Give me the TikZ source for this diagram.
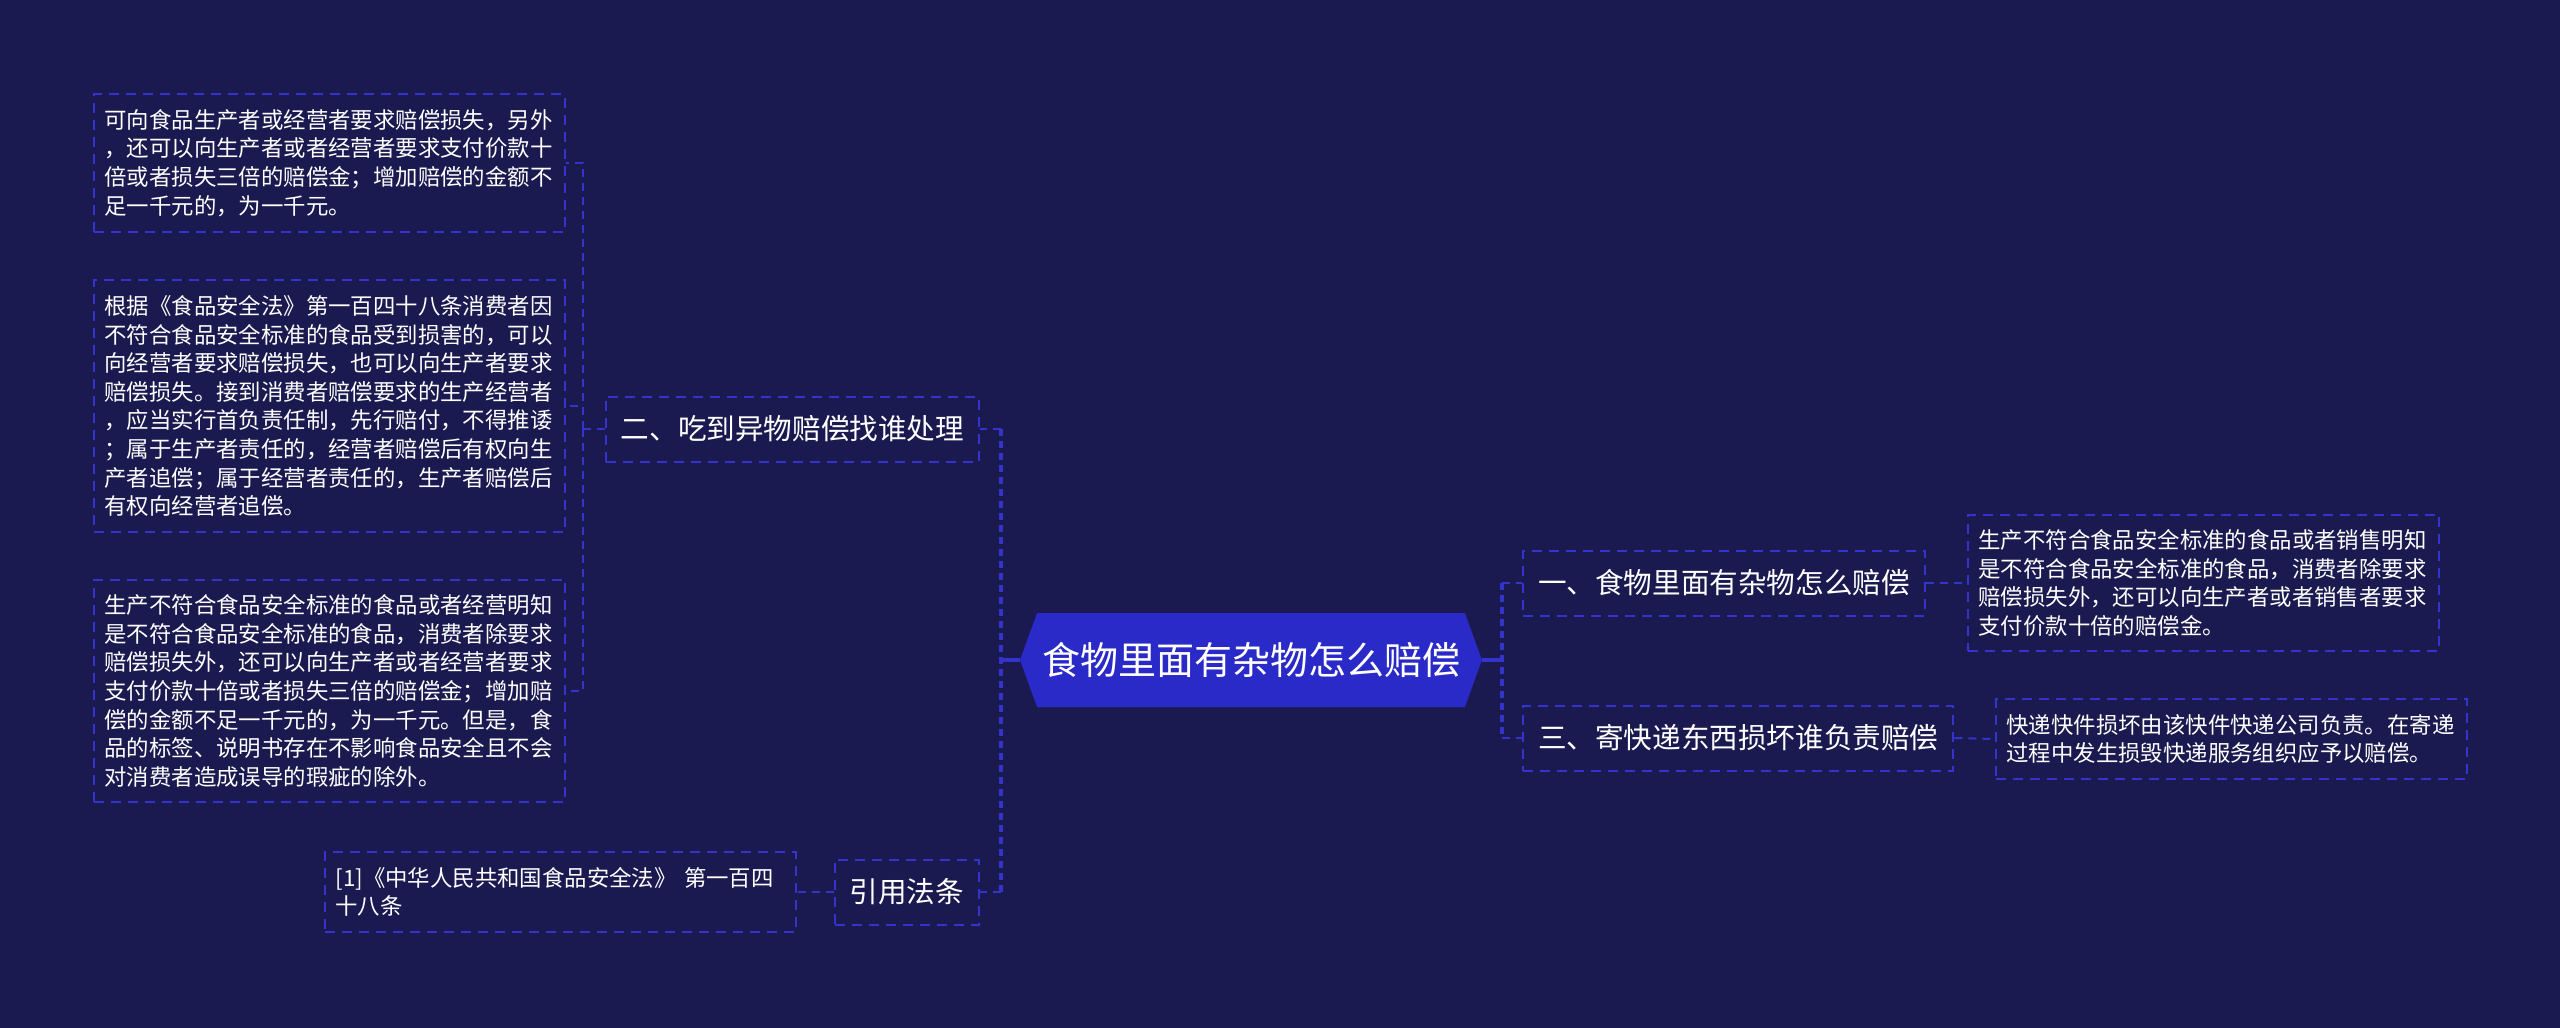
\documentclass[tikz,border=0pt]{standalone}
\usepackage{fontspec}
\setmainfont{Noto Sans CJK SC}
\usepackage{tikz}
\usetikzlibrary{shapes.symbols,calc}
\definecolor{BgNavy}  {RGB}{27,26,80}
\definecolor{RootFill}{RGB}{42,42,200}
\definecolor{LineBlue}{RGB}{52,52,205}
\tikzset{
  nd_root/.style={
    signal, signal to=east and west, signal pointer angle=140,
    fill=RootFill, text=white, inner sep=0pt,
    minimum width=231pt, minimum height=47pt,
    font=\fontsize{19}{22}\selectfont},
  nd_mid/.style={
    rectangle, draw=LineBlue, line width=1pt, dash pattern=on 5pt off 3.5pt,
    text=white, inner xsep=7.5pt, inner ysep=0pt, minimum height=32.5pt,
    font=\fontsize{14.3}{17}\selectfont},
  nd_leaf/.style={
    rectangle, draw=LineBlue, line width=1pt, dash pattern=on 5pt off 3.5pt,
    text=white, text width=225pt, align=left,
    inner xsep=5.25pt, inner ysep=7.5pt,
    font=\fontsize{11.2}{14.3}\selectfont},
  ln_stub/.style={draw=LineBlue, line width=2pt},
  ln_trunk/.style={draw=LineBlue, line width=2pt, dash pattern=on 3.5pt off 2.5pt},
  ln_link/.style={draw=LineBlue, line width=1pt, dash pattern=on 4pt off 3pt},
}

\begin{document}
\begin{tikzpicture}[x=0.5pt,y=-0.5pt]

\fill[BgNavy] (0,0) rectangle (2560,1028);
\useasboundingbox (0,0) rectangle (2560,1028);

\node[nd_root] at (1251,660) (R){食物里面有杂物怎么赔偿};

%% left side
\node[nd_mid,anchor=east] at (980,429) (L2){二、吃到异物赔偿找谁处理};
\node[nd_mid,anchor=east] at (980,892) (LR){引用法条};

\node[nd_leaf,anchor=east] at (566,163) (L2a){可向食品生产者或经营者要求赔偿损失，另外\\
，还可以向生产者或者经营者要求支付价款十\\
倍或者损失三倍的赔偿金；增加赔偿的金额不\\
足一千元的，为一千元。};
\node[nd_leaf,anchor=east] at (566,406) (L2b){根据《食品安全法》第一百四十八条消费者因\\
不符合食品安全标准的食品受到损害的，可以\\
向经营者要求赔偿损失，也可以向生产者要求\\
赔偿损失。接到消费者赔偿要求的生产经营者\\
，应当实行首负责任制，先行赔付，不得推诿\\
；属于生产者责任的，经营者赔偿后有权向生\\
产者追偿；属于经营者责任的，生产者赔偿后\\
有权向经营者追偿。};
\node[nd_leaf,anchor=east] at (566,691) (L2c){生产不符合食品安全标准的食品或者经营明知\\
是不符合食品安全标准的食品，消费者除要求\\
赔偿损失外，还可以向生产者或者经营者要求\\
支付价款十倍或者损失三倍的赔偿金；增加赔\\
偿的金额不足一千元的，为一千元。但是，食\\
品的标签、说明书存在不影响食品安全且不会\\
对消费者造成误导的瑕疵的除外。};
\node[nd_leaf,anchor=east] at (797,892) (LRa){[1]《中华人民共和国食品安全法》 第一百四\\
十八条};

%% right side
\node[nd_mid,anchor=west] at (1522,583) (R1){一、食物里面有杂物怎么赔偿};
\node[nd_mid,anchor=west] at (1522,738) (R3){三、寄快递东西损坏谁负责赔偿};

\node[nd_leaf,anchor=west] at (1967,583) (R1a){生产不符合食品安全标准的食品或者销售明知\\
是不符合食品安全标准的食品，消费者除要求\\
赔偿损失外，还可以向生产者或者销售者要求\\
支付价款十倍的赔偿金。};
\node[nd_leaf,anchor=west] at (1995,739) (R3a){快递快件损坏由该快件快递公司负责。在寄递\\
过程中发生损毁快递服务组织应予以赔偿。};

%% connectors
\draw[ln_stub] (R.west) -- ++(-19,0) coordinate (JL);
\draw[ln_trunk] (JL |- L2) -- (JL |- LR);
\draw[ln_link] (JL |- L2) -- (L2.east);
\draw[ln_link] (JL |- LR) -- (LR.east);

\draw[ln_link] (L2.west) -- ++(-22,0) coordinate (JL2);
\foreach \n in {L2a,L2b,L2c}
  {\draw[ln_link] (JL2) |- (\n.east);}
\draw[ln_link] (LR.west) -- (LRa.east);

\draw[ln_stub] (R.east) -- ++(20,0) coordinate (JR);
\draw[ln_trunk] (JR |- R1) -- (JR |- R3);
\draw[ln_link] (JR |- R1) -- (R1.west);
\draw[ln_link] (JR |- R3) -- (R3.west);
\draw[ln_link] (R1.east) -- (R1a.west);
\draw[ln_link] (R3.east) -- (R3a.west);

\end{tikzpicture}
\end{document}
